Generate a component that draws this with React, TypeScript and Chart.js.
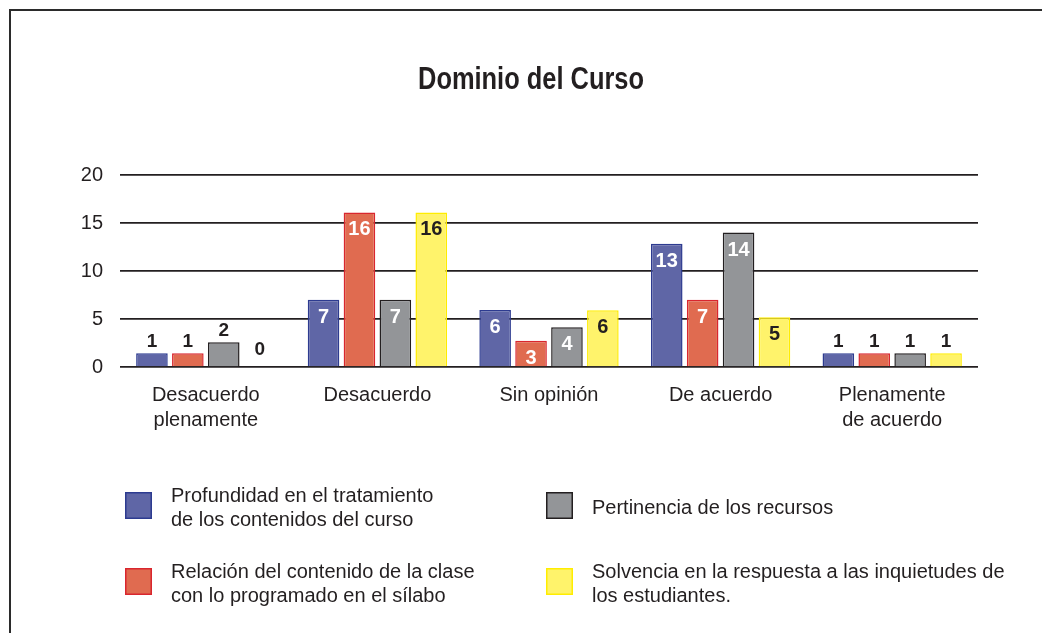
import React, { useEffect, useRef } from "react";
import { Chart, registerables } from "chart.js";

Chart.register(...registerables);

const categories: (string | string[])[] = [
  ["Desacuerdo", "plenamente"],
  "Desacuerdo",
  "Sin opinión",
  "De acuerdo",
  ["Plenamente", "de acuerdo"],
];

// bar heights as drawn in the picture
const profundidad = [1.43, 7, 5.94, 12.85, 1.43];
const relacion = [1.43, 16.1, 2.74, 7, 1.43];
const pertinencia = [2.57, 7, 4.13, 14, 1.43];
const solvencia = [0, 16.1, 5.9, 5.17, 1.43];

// numbers printed on the bars
const profundidadLabels = [1, 7, 6, 13, 1];
const relacionLabels = [1, 16, 3, 7, 1];
const pertinenciaLabels = [2, 7, 4, 14, 1];
const solvenciaLabels = [0, 16, 6, 5, 1];

const seriesNames: string[][] = [
  ["Profundidad en el tratamiento", "de los contenidos del curso"],
  ["Relación del contenido de la clase", "con lo programado en el sílabo"],
  ["Pertinencia de los recursos"],
  ["Solvencia en la respuesta a las inquietudes de", "los estudiantes."],
];

const yTicks = [0, 5, 10, 15, 20];
const titleText = "Dominio del Curso";

const fills = ["#5f66a6", "#e06b50", "#939598", "#fff36b"];
const borders = ["#2d3b90", "#d9262e", "#231f20", "#ffed00"];
const labelInside = ["#ffffff", "#ffffff", "#ffffff", "#231f20"];
const TEXT = "#231f20";
const SANS = '"Liberation Sans", Arial, Helvetica, sans-serif';

const allLabels = [profundidadLabels, relacionLabels, pertinenciaLabels, solvenciaLabels];

const decorPlugin = {
  id: "decor",
  beforeDraw(chart: any) {
    const ctx = chart.ctx;
    ctx.save();
    ctx.fillStyle = "#ffffff";
    ctx.fillRect(0, 0, chart.width, chart.height);
    ctx.strokeStyle = "#2b2b2b";
    ctx.lineWidth = 2;
    ctx.strokeRect(10, 10, chart.width + 50, chart.height + 50);
    // title (condensed bold look via horizontal scaling)
    ctx.save();
    ctx.fillStyle = TEXT;
    ctx.textAlign = "center";
    ctx.textBaseline = "alphabetic";
    ctx.font = "bold 31px " + SANS;
    ctx.translate(531, 89);
    ctx.scale(0.82, 1);
    ctx.fillText(titleText, 0, 0);
    ctx.restore();
    // legend
    const boxes = [
      [125, 492],
      [125, 568],
      [546, 492],
      [546, 568],
    ];
    ctx.textAlign = "left";
    ctx.font = "20px " + SANS;
    chart.data.datasets.forEach((ds: any, i: number) => {
      const [bx, by] = boxes[i];
      ctx.fillStyle = fills[i];
      ctx.fillRect(bx, by, 27, 27);
      ctx.strokeStyle = borders[i];
      ctx.lineWidth = 1.5;
      ctx.strokeRect(bx + 0.75, by + 0.75, 25.5, 25.5);
      ctx.fillStyle = TEXT;
      const lines: string[] = seriesNames[i];
      if (lines.length === 1) {
        ctx.fillText(lines[0], bx + 46, by + 22);
      } else {
        lines.forEach((ln, k) => ctx.fillText(ln, bx + 46, by + 10 + k * 23.5));
      }
    });
    ctx.restore();
  },
  afterDatasetsDraw(chart: any) {
    const ctx = chart.ctx;
    ctx.save();
    ctx.textAlign = "center";
    ctx.textBaseline = "alphabetic";
    chart.data.datasets.forEach((ds: any, i: number) => {
      const meta = chart.getDatasetMeta(i);
      meta.data.forEach((bar: any, j: number) => {
        const lab = allLabels[i][j];
        if (lab <= 2) {
          ctx.font = "bold 19px " + SANS;
          ctx.fillStyle = TEXT;
          ctx.fillText(String(lab), bar.x, bar.y - (lab === 0 ? 12 : 6));
        } else {
          ctx.font = "bold 20px " + SANS;
          ctx.fillStyle = labelInside[i];
          ctx.fillText(String(lab), bar.x, bar.y + 23);
        }
      });
    });
    ctx.restore();
  },
};

export default function App() {
  const ref = useRef<HTMLCanvasElement>(null);
  useEffect(() => {
    if (!ref.current) return;
    const series = [profundidad, relacion, pertinencia, solvencia];
    const chart = new Chart(ref.current, {
      type: "bar",
      data: {
        labels: categories,
        datasets: series.map((d, i) => ({
          label: seriesNames[i].join(" "),
          data: d,
          backgroundColor: fills[i],
          borderColor: borders[i],
          borderWidth: 1.5,
          categoryPercentage: 0.837,
          barPercentage: 0.88,
        })),
      },
      options: {
        responsive: false,
        animation: false,
        layout: { padding: { left: 60, right: 64, top: 175, bottom: 166 } },
        plugins: { legend: { display: false }, title: { display: false }, tooltip: { enabled: false } },
        scales: {
          x: {
            afterFit: (s: any) => {
              s.height = 100;
            },
            grid: { display: false, drawTicks: false },
            border: { display: false },
            ticks: {
              color: TEXT,
              padding: 16,
              font: { family: SANS, size: 20, lineHeight: 1.25 },
            },
          },
          y: {
            min: 0,
            max: 20,
            afterFit: (s: any) => {
              s.width = 60;
            },
            afterBuildTicks: (s: any) => {
              s.ticks = yTicks.map((v) => ({ value: v }));
            },
            grid: { color: "#231f20", lineWidth: 1.7, drawTicks: false },
            border: { display: false },
            ticks: {
              color: TEXT,
              padding: 17,
              font: { family: SANS, size: 20 },
            },
          },
        },
      },
      plugins: [decorPlugin],
    });
    return () => chart.destroy();
  }, []);
  return (
    <div style={{ position: "fixed", left: 0, top: 0, width: 1042, height: 633, background: "#fff" }}>
      <canvas ref={ref} width={1042} height={633} />
    </div>
  );
}
